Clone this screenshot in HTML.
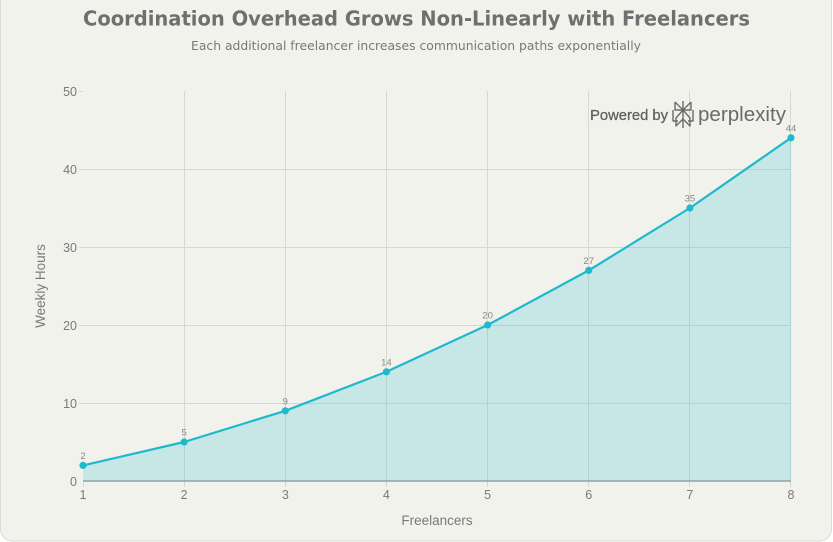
<!DOCTYPE html>
<html><head><meta charset="utf-8"><style>
html,body{margin:0;padding:0;background:#fff;width:833px;height:542px;overflow:hidden}
svg{display:block}
</style></head><body>
<svg width="833" height="542" viewBox="0 0 833 542" xmlns="http://www.w3.org/2000/svg">
<rect x="0.5" y="-20" width="831" height="561" rx="12" ry="12" fill="#f2f2ed" stroke="#dcdcd7" stroke-width="1"/>
<text x="83" y="25.5" font-family="DejaVu Sans, sans-serif" font-weight="bold" font-size="20.5" fill="#6f6f6f" textLength="667" lengthAdjust="spacingAndGlyphs">Coordination Overhead Grows Non-Linearly with Freelancers</text>
<text x="191" y="50" font-family="DejaVu Sans, sans-serif" font-size="12.8" fill="#787878" textLength="450" lengthAdjust="spacingAndGlyphs">Each additional freelancer increases communication paths exponentially</text>
<g stroke="#d8d8d3" stroke-width="1" fill="none">
<line x1="79" y1="403.5" x2="791" y2="403.5"/>
<line x1="79" y1="325.5" x2="791" y2="325.5"/>
<line x1="79" y1="247.5" x2="791" y2="247.5"/>
<line x1="79" y1="169.5" x2="791" y2="169.5"/>
<line x1="79" y1="91.5" x2="83" y2="91.5"/>
<line x1="83.5" y1="481" x2="83.5" y2="487"/>
<line x1="184.5" y1="91" x2="184.5" y2="487"/>
<line x1="285.5" y1="91" x2="285.5" y2="487"/>
<line x1="386.5" y1="91" x2="386.5" y2="487"/>
<line x1="487.5" y1="91" x2="487.5" y2="487"/>
<line x1="588.5" y1="91" x2="588.5" y2="487"/>
<line x1="689.5" y1="91" x2="689.5" y2="487"/>
<line x1="790.5" y1="91" x2="790.5" y2="487"/>
</g>
<path d="M83,465.4 L184.1,442 L285.3,410.8 L386.4,371.8 L487.6,325 L588.7,270.4 L689.9,208 L791,137.8 L791,481 L83,481 Z" fill="#1fb8cd" fill-opacity="0.2"/>
<line x1="83" y1="481" x2="791" y2="481" stroke="#8fa3a5" stroke-width="1.6"/>
<polyline points="83,465.4 184.1,442 285.3,410.8 386.4,371.8 487.6,325 588.7,270.4 689.9,208 791,137.8" fill="none" stroke="#1fb8cd" stroke-width="2.2" stroke-linejoin="round"/>
<g fill="#1fb8cd">
<circle cx="83" cy="465.4" r="3.6"/><circle cx="184.1" cy="442" r="3.6"/><circle cx="285.3" cy="410.8" r="3.6"/><circle cx="386.4" cy="371.8" r="3.6"/><circle cx="487.6" cy="325" r="3.6"/><circle cx="588.7" cy="270.4" r="3.6"/><circle cx="689.9" cy="208" r="3.6"/><circle cx="791" cy="137.8" r="3.6"/>
</g>
<g font-family="Liberation Sans, Arial, sans-serif" font-size="9.5" fill="#888" text-anchor="middle">
<text x="83" y="459">2</text><text x="184.1" y="435.5">5</text><text x="285.3" y="404.5">9</text><text x="386.4" y="365.5">14</text><text x="487.6" y="318.5">20</text><text x="588.7" y="264">27</text><text x="689.9" y="201.5">35</text><text x="791" y="131.5">44</text>
</g>
<g font-family="Liberation Sans, Arial, sans-serif" font-size="12.5" fill="#7a7a7a" text-anchor="end">
<text x="77" y="486">0</text><text x="77" y="408">10</text><text x="77" y="330">20</text><text x="77" y="252">30</text><text x="77" y="174">40</text><text x="77" y="96">50</text>
</g>
<g font-family="Liberation Sans, Arial, sans-serif" font-size="12.5" fill="#7a7a7a" text-anchor="middle">
<text x="83" y="499">1</text><text x="184.1" y="499">2</text><text x="285.3" y="499">3</text><text x="386.4" y="499">4</text><text x="487.6" y="499">5</text><text x="588.7" y="499">6</text><text x="689.9" y="499">7</text><text x="791" y="499">8</text>
</g>
<text x="437" y="525" font-family="Liberation Sans, Arial, sans-serif" font-size="13.5" fill="#7a7a7a" text-anchor="middle">Freelancers</text>
<text transform="translate(45,286) rotate(-90)" font-family="Liberation Sans, Arial, sans-serif" font-size="13.5" fill="#7a7a7a" text-anchor="middle">Weekly Hours</text>
<text x="590" y="120" font-family="Liberation Sans, Arial, sans-serif" font-size="15" fill="#5f5f5f" stroke="#5f5f5f" stroke-width="0.3" textLength="78" lengthAdjust="spacingAndGlyphs">Powered by</text>
<g stroke="#6a6a6a" stroke-width="1.4" fill="none" stroke-linejoin="round">
<line x1="683" y1="101" x2="683" y2="128"/>
<path d="M675,102 L683,110 L691,102"/>
<path d="M675,102 L675,110 L691,110 L691,102"/>
<path d="M673,110 L673,121 L678,121"/>
<path d="M693,110 L693,121 L688,121"/>
<path d="M683,110 L676,118 L676,126 L683,119 L690,126 L690,118 Z"/>
</g>
<text x="698" y="121" font-family="Liberation Sans, Arial, sans-serif" font-size="20" fill="#6a6a6a" textLength="88" lengthAdjust="spacingAndGlyphs">perplexity</text>
</svg>
</body></html>
